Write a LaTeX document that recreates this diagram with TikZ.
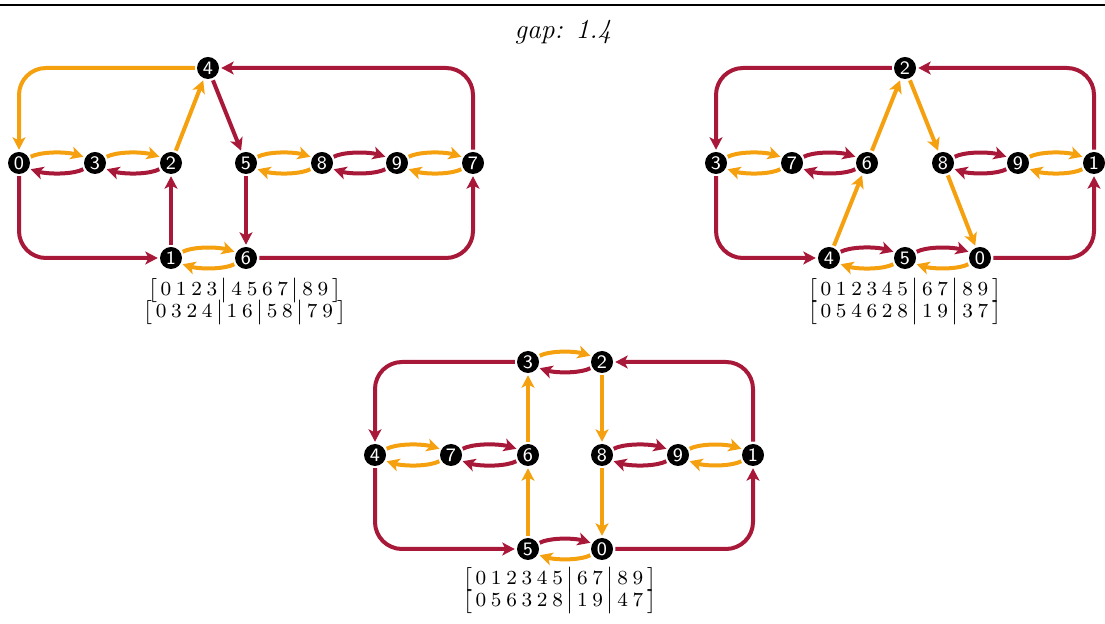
\documentclass[tikz,border=0pt]{standalone}
\usepackage{amsmath}
\usetikzlibrary{arrows.meta,bending}

\definecolor{gold}{RGB}{245,160,15}
\definecolor{wine}{RGB}{168,24,56}

% spacing inside the permutation rows
\newcommand\ds{\mskip4mu}
\newcommand\bsep{\mskip3mu\big|\mskip3mu}
\newcommand\lbr{\bigl[\mskip3mu}
\newcommand\rbr{\mskip4mu\bigr]}

\tikzset{
  vtx/.style={circle, fill=black, inner sep=0pt, minimum size=8.8pt, outer sep=0.9pt,
    text=white, font=\sffamily\fontsize{7.6}{7.6}\selectfont},
  link/.style={line width=1.6pt, -{Stealth[length=5pt,width=5.2pt,inset=1.3pt]}},
  og/.style={link, color=gold},
  rd/.style={link, color=wine},
  pair/.style={bend left=28, looseness=0.6},
  loop/.style={rounded corners=10.8pt},
  perm/.style={font=\fontsize{8}{9.2}\selectfont, inner sep=0pt}
}

\begin{document}
\begin{tikzpicture}[x=0.4pt, y=-0.4pt]
\useasboundingbox (0,0) rectangle (1105,624);

% header rule and title
\draw[line width=0.7pt] (0,5) -- (1105,5);
\node[font=\itshape\fontsize{11}{13}\selectfont] (title) at (563,32) {gap: 1.4};

% ---------- first graph ----------
\node[vtx] (a4) at (208,68) {4};
\node[vtx] (a0) at (19,163) {0};
\node[vtx] (a3) at (95,163) {3};
\node[vtx] (a2) at (171,163) {2};
\node[vtx] (a5) at (246,163) {5};
\node[vtx] (a8) at (322,163) {8};
\node[vtx] (a9) at (397,163) {9};
\node[vtx] (a7) at (473,163) {7};
\node[vtx] (a1) at (171,258) {1};
\node[vtx] (a6) at (246,258) {6};

\draw[og, loop] (a4) -| (a0);
\draw[rd, loop] (a7) |- (a4);
\draw[rd, loop] (a0) |- (a1);
\draw[rd, loop] (a6) -| (a7);
\draw[og] (a0) to[pair] (a3);
\draw[rd] (a3) to[pair] (a0);
\draw[og] (a3) to[pair] (a2);
\draw[rd] (a2) to[pair] (a3);
\draw[og] (a2) -- (a4);
\draw[rd] (a4) -- (a5);
\draw[og] (a5) to[pair] (a8);
\draw[og] (a8) to[pair] (a5);
\draw[rd] (a8) to[pair] (a9);
\draw[rd] (a9) to[pair] (a8);
\draw[og] (a9) to[pair] (a7);
\draw[og] (a7) to[pair] (a9);
\draw[rd] (a1) -- (a2);
\draw[rd] (a5) -- (a6);
\draw[og] (a1) to[pair] (a6);
\draw[og] (a6) to[pair] (a1);

\node[perm] (pa1) at (245,291) {$\lbr 0\ds1\ds2\ds3\bsep4\ds5\ds6\ds7\bsep8\ds9\rbr$};
\node[perm] (pa2) at (245,313) {$\lbr 0\ds3\ds2\ds4\bsep1\ds6\bsep5\ds8\bsep7\ds9\rbr$};

% ---------- second graph ----------
\node[vtx] (b2) at (905,68) {2};
\node[vtx] (b3) at (716,163) {3};
\node[vtx] (b7) at (792,163) {7};
\node[vtx] (b6) at (867,163) {6};
\node[vtx] (b8) at (943,163) {8};
\node[vtx] (b9) at (1018,163) {9};
\node[vtx] (b1) at (1094,163) {1};
\node[vtx] (b4) at (829,258) {4};
\node[vtx] (b5) at (905,258) {5};
\node[vtx] (b0) at (980,258) {0};

\draw[rd, loop] (b1) |- (b2);
\draw[rd, loop] (b2) -| (b3);
\draw[rd, loop] (b3) |- (b4);
\draw[rd, loop] (b0) -| (b1);
\draw[og] (b3) to[pair] (b7);
\draw[og] (b7) to[pair] (b3);
\draw[rd] (b7) to[pair] (b6);
\draw[rd] (b6) to[pair] (b7);
\draw[og] (b6) -- (b2);
\draw[og] (b2) -- (b8);
\draw[rd] (b8) to[pair] (b9);
\draw[rd] (b9) to[pair] (b8);
\draw[og] (b9) to[pair] (b1);
\draw[og] (b1) to[pair] (b9);
\draw[og] (b4) -- (b6);
\draw[og] (b8) -- (b0);
\draw[rd] (b4) to[pair] (b5);
\draw[og] (b5) to[pair] (b4);
\draw[rd] (b5) to[pair] (b0);
\draw[og] (b0) to[pair] (b5);

\node[perm] (pb1) at (905,291) {$\lbr 0\ds1\ds2\ds3\ds4\ds5\bsep6\ds7\bsep8\ds9\rbr$};
\node[perm] (pb2) at (905,313) {$\lbr 0\ds5\ds4\ds6\ds2\ds8\bsep1\ds9\bsep3\ds7\rbr$};

% ---------- third graph ----------
\node[vtx] (c3) at (528,362) {3};
\node[vtx] (c2) at (602,362) {2};
\node[vtx] (c4) at (375,455) {4};
\node[vtx] (c7) at (451,455) {7};
\node[vtx] (c6) at (528,455) {6};
\node[vtx] (c8) at (602,455) {8};
\node[vtx] (c9) at (678,455) {9};
\node[vtx] (c1) at (753,455) {1};
\node[vtx] (c5) at (528,549) {5};
\node[vtx] (c0) at (602,549) {0};

\draw[rd, loop] (c1) |- (c2);
\draw[rd, loop] (c3) -| (c4);
\draw[rd, loop] (c4) |- (c5);
\draw[rd, loop] (c0) -| (c1);
\draw[og] (c3) to[pair] (c2);
\draw[rd] (c2) to[pair] (c3);
\draw[og] (c4) to[pair] (c7);
\draw[og] (c7) to[pair] (c4);
\draw[rd] (c7) to[pair] (c6);
\draw[rd] (c6) to[pair] (c7);
\draw[og] (c6) -- (c3);
\draw[og] (c2) -- (c8);
\draw[rd] (c8) to[pair] (c9);
\draw[rd] (c9) to[pair] (c8);
\draw[og] (c9) to[pair] (c1);
\draw[og] (c1) to[pair] (c9);
\draw[og] (c5) -- (c6);
\draw[og] (c8) -- (c0);
\draw[rd] (c5) to[pair] (c0);
\draw[og] (c0) to[pair] (c5);

\node[perm] (pc1) at (560,580) {$\lbr 0\ds1\ds2\ds3\ds4\ds5\bsep6\ds7\bsep8\ds9\rbr$};
\node[perm] (pc2) at (560,602) {$\lbr 0\ds5\ds6\ds3\ds2\ds8\bsep1\ds9\bsep4\ds7\rbr$};
\end{tikzpicture}
\end{document}
